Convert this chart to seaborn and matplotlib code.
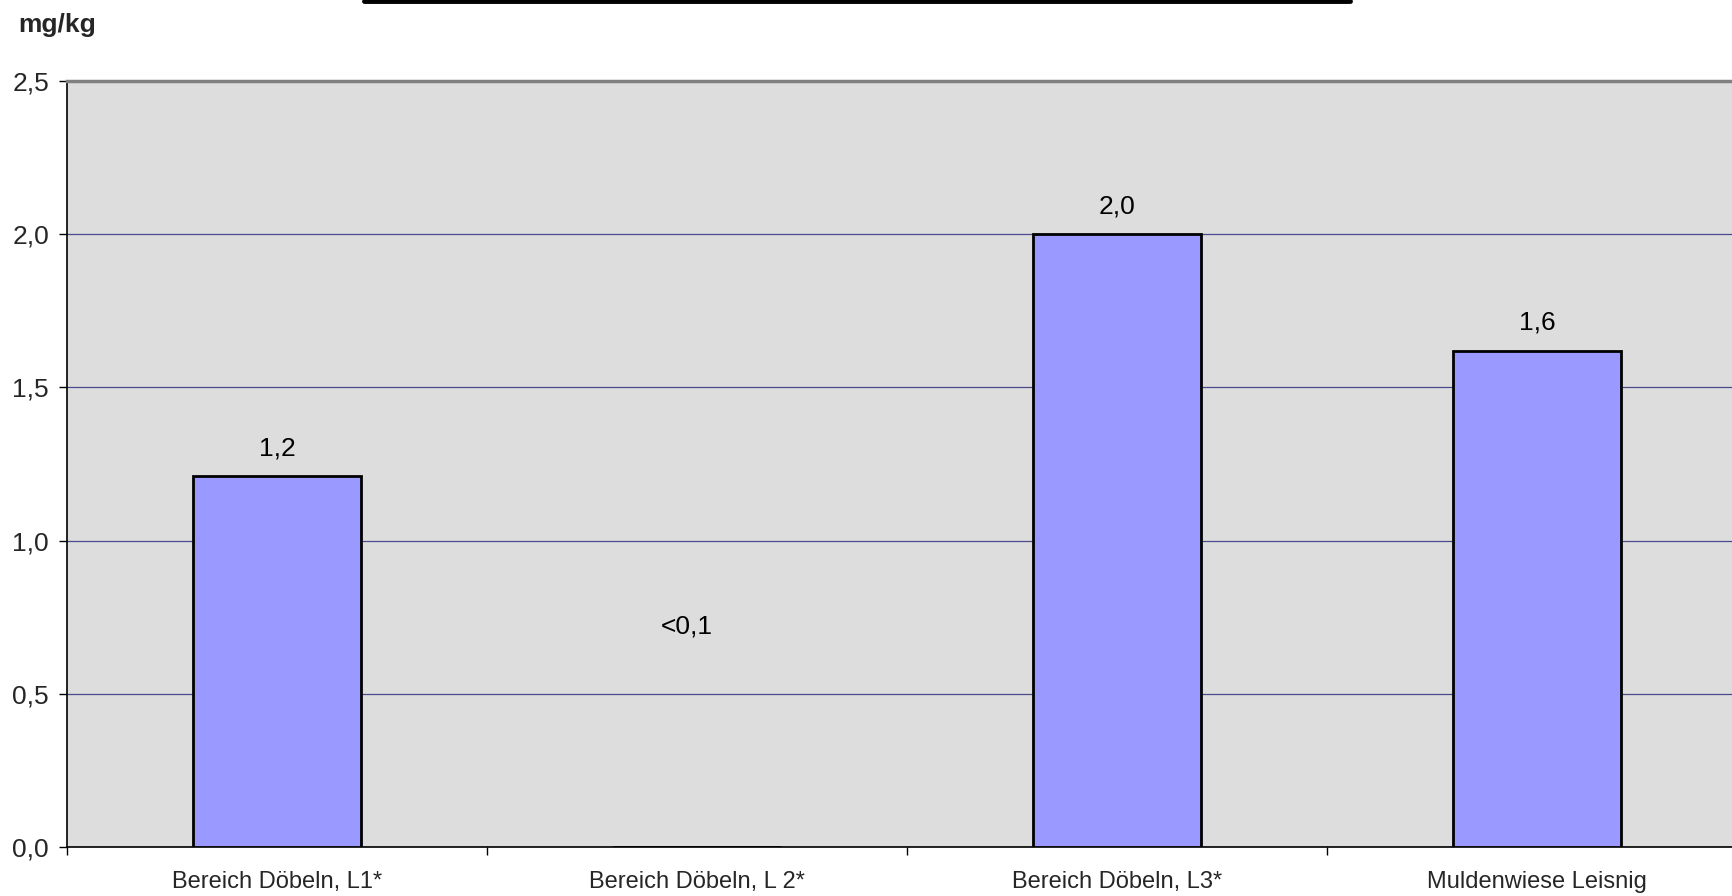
import matplotlib
matplotlib.use("Agg")
import matplotlib.pyplot as plt
import seaborn as sns
import pandas as pd
from matplotlib.lines import Line2D

categories = ["Bereich Döbeln, L1*", "Bereich Döbeln, L 2*", "Bereich Döbeln, L3*", "Muldenwiese Leisnig"]
values = [1.21, 0.0, 2.0, 1.62]
value_labels = ["1,2", "<0,1", "2,0", "1,6"]
y_ticks = [0.0, 0.5, 1.0, 1.5, 2.0, 2.5]
y_tick_labels = ["0,0", "0,5", "1,0", "1,5", "2,0", "2,5"]
unit_label = "mg/kg"

sns.set_theme(style="white")
plt.rcParams['font.family'] = ['Liberation Sans', 'DejaVu Sans']

df = pd.DataFrame({"cat": categories, "val": values})

fig = plt.figure(figsize=(17.33, 8.96), dpi=100)
ax = fig.add_axes([0.0387, 0.0547, 0.9694, 0.855])
ax.set_facecolor("#DDDDDD")

sns.barplot(data=df, x="cat", y="val", color="#9999FF", width=0.4,
            edgecolor="black", linewidth=2, saturation=1, ax=ax, zorder=3)

ax.set_xlim(-0.5, 3.5)
ax.set_ylim(0, 2.5)
ax.set_yticks(y_ticks)
ax.set_yticklabels(y_tick_labels, fontsize=19)
ax.yaxis.grid(True, color="#4a4a8c", linewidth=0.9, zorder=1)
ax.set_axisbelow(True)

# category labels as minor ticks, boundaries as major ticks
ax.set_xticks([-0.5, 0.5, 1.5, 2.5, 3.5])
ax.set_xticklabels([])
ax.set_xticks(range(len(categories)), minor=True)
ax.set_xticklabels(categories, minor=True, fontsize=17)
ax.tick_params(axis="x", which="minor", length=0, pad=17)
ax.tick_params(axis="x", which="major", length=6, width=1, color="black", direction="out", bottom=True)
ax.tick_params(axis="y", length=6, width=1, color="black", direction="out", left=True, pad=7)
ax.set_xlabel("")
ax.set_ylabel("")

for s in ["left", "bottom"]:
    ax.spines[s].set_color("black")
    ax.spines[s].set_linewidth(1.2)
ax.spines["top"].set_color("#808080")
ax.spines["top"].set_linewidth(2.5)
ax.spines["right"].set_color("#808080")
ax.spines["right"].set_linewidth(2.5)

for i, (v, lab) in enumerate(zip(values, value_labels)):
    if v > 0:
        ax.annotate(lab, xy=(i, v), xytext=(0, 20), textcoords="offset points",
                    ha="center", va="center", fontsize=19, color="black")
    else:
        ax.text(i - 0.025, 0.72, lab, ha="center", va="center", fontsize=19, color="black")

fig.text(0.0104, 0.972, unit_label, fontsize=19, fontweight="bold", ha="left", va="center")

fig.add_artist(Line2D([364 / 1733, 1350 / 1733], [1 - 1.5 / 896, 1 - 1.5 / 896],
                      transform=fig.transFigure, color="black", linewidth=3.5))

fig.savefig("out.png", dpi=100)
